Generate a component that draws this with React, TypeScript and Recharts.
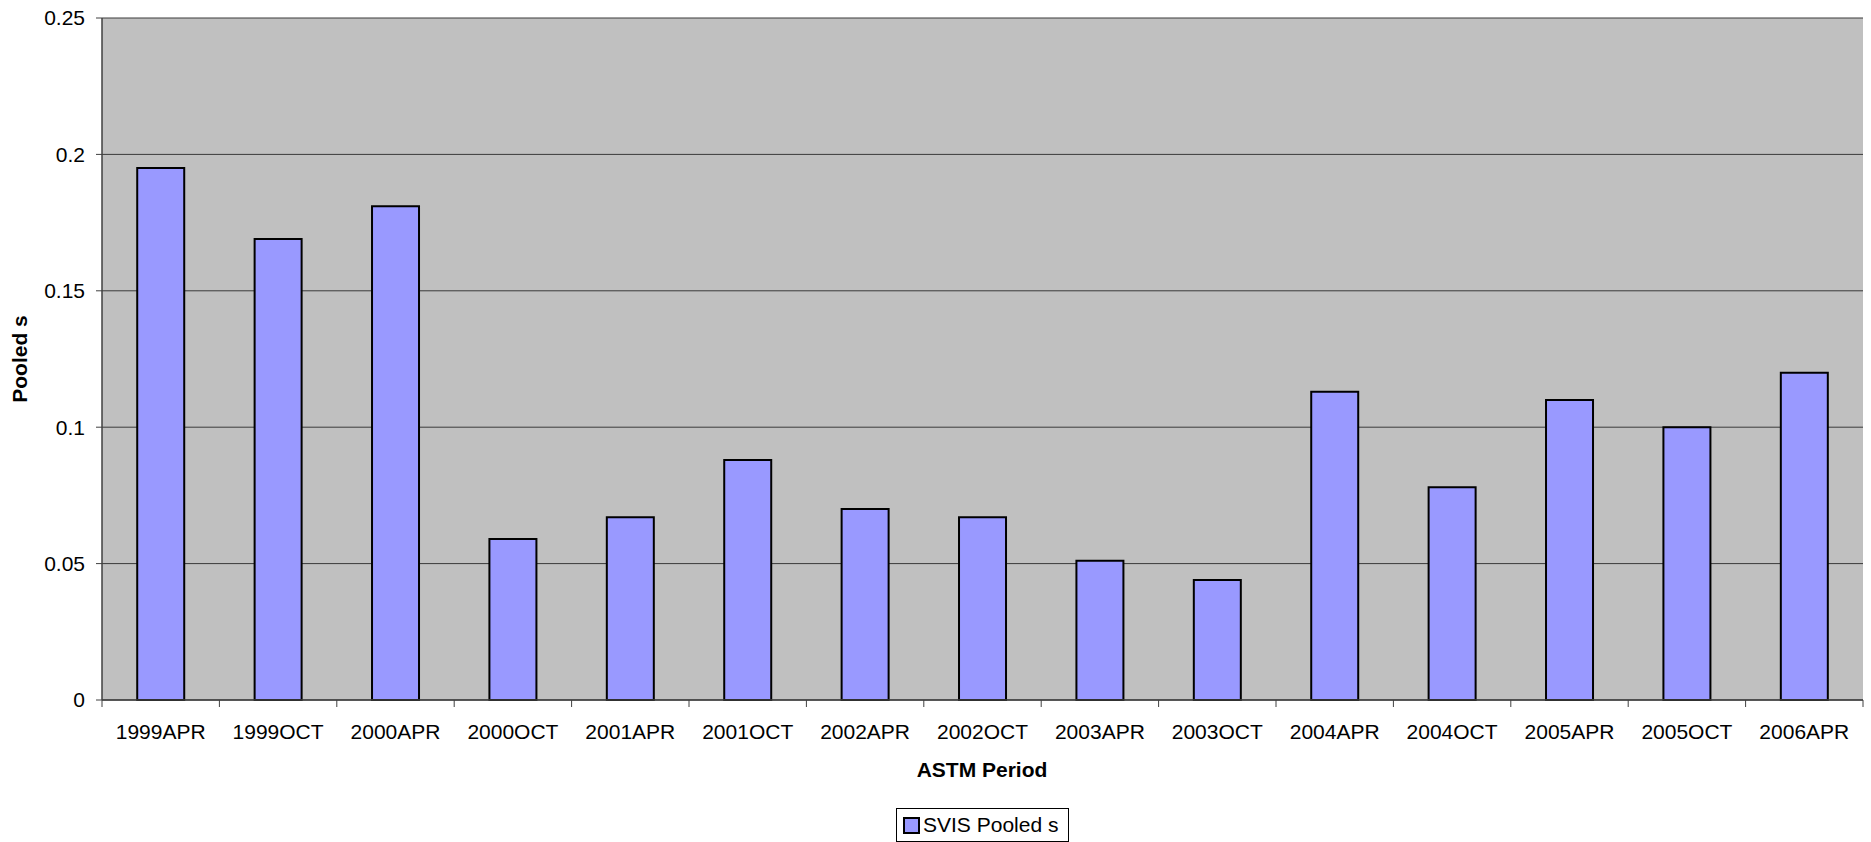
import { BarChart, Bar, XAxis, YAxis, CartesianGrid, Legend, Label } from 'recharts';

const PERIODS = [
    '1999APR', '1999OCT', '2000APR', '2000OCT', '2001APR', '2001OCT', '2002APR', '2002OCT',
    '2003APR', '2003OCT', '2004APR', '2004OCT', '2005APR', '2005OCT', '2006APR',
];
const POOLED_S = [0.195, 0.169, 0.181, 0.059, 0.067, 0.088, 0.07, 0.067, 0.051, 0.044, 0.113, 0.078, 0.11, 0.1, 0.12];
const Y_TICKS = [0, 0.05, 0.1, 0.15, 0.2, 0.25];

const FONT = '"Liberation Sans", Arial, sans-serif';
const WIDTH = 1871;
const HEIGHT = 842;
const PLOT_LEFT = 102;
const PLOT_RIGHT = 1863;
const BAND = (PLOT_RIGHT - PLOT_LEFT) / PERIODS.length;

const data = PERIODS.map((p, i) => ({ period: p, value: POOLED_S[i] }));

const PeriodTick = (props: any) => {
    const { x, payload, index } = props;
    const top = 700;
    return (
        <g>
            <line x1={x - BAND / 2} x2={x - BAND / 2} y1={top} y2={top + 7} stroke="#404040" />
            {index === PERIODS.length - 1 && (
                <line x1={x + BAND / 2} x2={x + BAND / 2} y1={top} y2={top + 7} stroke="#404040" />
            )}
            <text x={x} y={739} textAnchor="middle" fontSize={21} fill="#000" fontFamily={FONT}>
                {payload.value}
            </text>
        </g>
    );
};

const LegendBox = () => (
    <div
        style={{
            width: 173,
            height: 34,
            boxSizing: 'border-box',
            border: '1px solid #000',
            background: '#fff',
            display: 'flex',
            alignItems: 'center',
            paddingLeft: 6,
            fontFamily: FONT,
            fontSize: 21,
            color: '#000',
        }}
    >
        <span
            style={{
                display: 'inline-block',
                width: 13,
                height: 13,
                background: '#9999FF',
                border: '2px solid #000',
                marginRight: 3,
            }}
        />
        SVIS Pooled s
    </div>
);

export default function App() {
    return (
        <div style={{ position: 'absolute', left: 0, top: 0, background: '#fff' }}>
            <BarChart
                width={WIDTH}
                height={HEIGHT}
                data={data}
                margin={{ top: 18, right: WIDTH - PLOT_RIGHT, left: 0, bottom: 0 }}
                barCategoryGap="30%"
            >
                <CartesianGrid vertical={false} stroke="#3a3a3a" fill="#C0C0C0" />
                <XAxis
                    dataKey="period"
                    height={108}
                    tickLine={false}
                    axisLine={{ stroke: '#404040', strokeWidth: 1.5 }}
                    tick={<PeriodTick />}
                    interval={0}
                >
                    <Label
                        content={() => (
                            <text x={982} y={777} textAnchor="middle" fontSize={21} fontWeight="bold" fontFamily={FONT} fill="#000">
                                ASTM Period
                            </text>
                        )}
                    />
                </XAxis>
                <YAxis
                    width={PLOT_LEFT}
                    domain={[0, 0.25]}
                    ticks={Y_TICKS}
                    tickSize={6}
                    tickMargin={11}
                    tickLine={{ stroke: '#404040' }}
                    axisLine={{ stroke: '#404040', strokeWidth: 1.5 }}
                    tick={{ fontSize: 21, fill: '#000', fontFamily: FONT }}
                >
                    <Label
                        content={() => (
                            <text
                                x={0}
                                y={0}
                                transform="translate(27, 359) rotate(-90)"
                                textAnchor="middle"
                                fontSize={21}
                                fontWeight="bold"
                                fontFamily={FONT}
                                fill="#000"
                            >
                                Pooled s
                            </text>
                        )}
                    />
                </YAxis>
                <YAxis
                    yAxisId="right"
                    orientation="right"
                    width={0}
                    tick={false}
                    tickLine={false}
                    axisLine={{ stroke: '#808080', strokeWidth: 2 }}
                />
                <Legend
                    verticalAlign="bottom"
                    content={<LegendBox />}
                    wrapperStyle={{ left: 896, bottom: 0, width: 173, height: 34 }}
                />
                <Bar
                    dataKey="value"
                    name="SVIS Pooled s"
                    fill="#9999FF"
                    stroke="#000"
                    strokeWidth={2}
                    isAnimationActive={false}
                />
            </BarChart>
        </div>
    );
}
